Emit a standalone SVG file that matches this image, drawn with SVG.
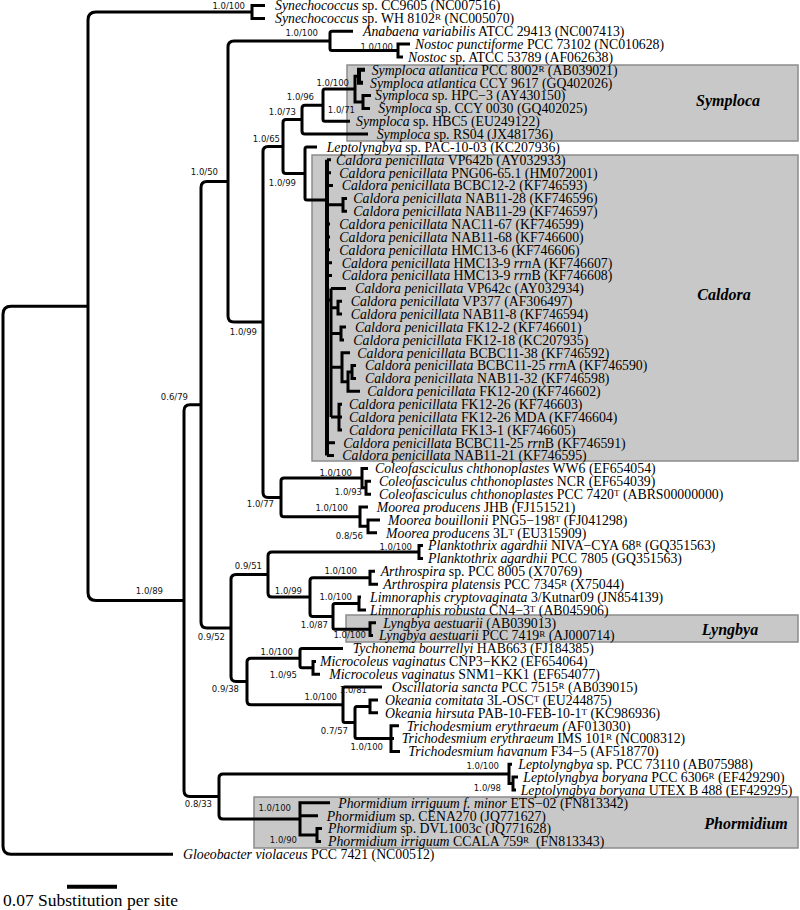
<svg xmlns="http://www.w3.org/2000/svg" width="800" height="910" viewBox="0 0 800 910">
<style>
.bg{fill:#ffffff}
.box{fill:#c8c8c8;stroke:#8c8c8c;stroke-width:1.5}
.br{fill:none;stroke:#000;stroke-width:3;stroke-linejoin:miter}
.tk{stroke-width:4}
.lf{font-family:"Liberation Serif","Times New Roman",serif;font-size:13.8px;fill:#000}
.i{font-style:italic}
.sup{font-size:9px}
.sp{font-family:"DejaVu Sans",Verdana,sans-serif;font-size:8.5px;fill:#111;text-anchor:end}
.grp{font-family:"Liberation Serif","Times New Roman",serif;font-size:16px;font-weight:bold;font-style:italic;fill:#000;text-anchor:middle}
.scl{font-family:"Liberation Serif","Times New Roman",serif;font-size:17.5px;fill:#000}
</style>
<rect class="bg" x="0" y="0" width="800" height="910"/>
<g id="clades">
<rect class="box" x="347" y="65" width="451" height="76"/>
<rect class="box" x="312" y="155" width="486" height="306"/>
<rect class="box" x="346" y="615" width="452" height="27"/>
<rect class="box" x="254" y="797" width="544" height="51"/>
<text class="grp" x="728" y="106">Symploca</text>
<text class="grp" x="724" y="300">Caldora</text>
<text class="grp" x="730" y="635">Lyngbya</text>
<text class="grp" x="746" y="829">Phormidium</text>
</g>
<g id="connectors">
<path class="br" d="M88 306.2H11Q3 306.2 3 314.2V846.3Q3 854.3 11 854.3H173"/>
<path class="br" d="M252 12H96Q88 12 88 20V592.5Q88 600.5 96 600.5H184"/>
<path class="br" d="M265 5.5H252V18.4H265"/>
<path class="br" d="M201 404.7H190Q184 404.7 184 410.7V790.4Q184 796.4 190 796.4H219"/>
<path class="br" d="M228 181.4H207Q201 181.4 201 187.4V622.1Q201 628.1 207 628.1H231"/>
<path class="br" d="M330 40.9H234Q228 40.9 228 46.9V316Q228 322 234 322H263"/>
<path class="br" d="M353 31.2H332Q330 31.2 330 33.2V48.5Q330 50.5 332 50.5H398"/>
<path class="br" d="M410 44.1H398V56.9H403"/>
<path class="br" d="M283 146.5H268Q263 146.5 263 151.5V492.4Q263 497.4 268 497.4H281"/>
<path class="br" d="M302 119.6H286Q283 119.6 283 122.6V170.5Q283 173.5 286 173.5H305"/>
<path class="br" d="M323 105.2H305Q302 105.2 302 108.2V131.1Q302 134.1 305 134.1H368"/>
<path class="br" d="M355 89.1H325Q323 89.1 323 91.1V119.2Q323 121.2 325 121.2H350"/>
<path class="br" d="M359 76.2H355V102H363"/>
<path class="br tk" d="M365 69.8H359V82.7H363"/>
<path class="br" d="M371 95.5H363V108.4H370"/>
<path class="br" d="M317 147H307Q305 147 305 149V198Q305 200 307 200H327"/>
<path class="br tk" d="M327 159.8V455.6"/>
<path class="br" d="M327 159.8H331M327 172.7H331M327 185.5H333M327 204.8H343M347 198.4H343V211.3H347M327 224.1H330M327 237H330M327 249.8H330M327 262.7H332M327 275.6H332"/>
<path class="br" d="M327 300H331M331 288.4V417M331 288.4H346M331 307.7H338M342 301.3H338V314.1H342M331 333.4H341M346 327H341V339.9H344M331 367.2H342M350 352.7H342V381.7H348M352 372H348V391.3H360M356 365.6H352V378.4H356M331 417H342M342 404.2H339V429.9H342M327 442.7H335M327 455.6H334"/>
<path class="br" d="M362 478.1H284Q281 478.1 281 481.1V513.7Q281 516.7 284 516.7H360"/>
<path class="br" d="M368 468.5H362V487.8H366"/>
<path class="br" d="M371 481.3H366V494.2H371"/>
<path class="br" d="M368 507H360V526.3H368"/>
<path class="br" d="M380 519.9H368V532.8H377"/>
<path class="br" d="M268 574.6H236Q231 574.6 231 579.6V676.5Q231 681.5 236 681.5H247"/>
<path class="br" d="M419 552H272Q268 552 268 556V593.1Q268 597.1 272 597.1H310"/>
<path class="br" d="M423 545.6H419V558.5H423"/>
<path class="br" d="M370 577.8H313Q310 577.8 310 580.8V613.4Q310 616.4 313 616.4H333"/>
<path class="br" d="M375 571.3H370V584.2H378"/>
<path class="br" d="M359 603.5H335Q333 603.5 333 605.5V627.2Q333 629.2 335 629.2H370"/>
<path class="br" d="M361 597.1H359V609.9H366"/>
<path class="br" d="M376 622.8H370V635.6H373"/>
<path class="br" d="M300 658.2H251Q247 658.2 247 662.2V700.8Q247 704.8 251 704.8H343"/>
<path class="br" d="M343 648.5H302Q300 648.5 300 650.5V665.8Q300 667.8 302 667.8H313"/>
<path class="br" d="M316 661.4H313V674.2H320"/>
<path class="br" d="M382 687.1H345Q343 687.1 343 689.1V720.4Q343 722.4 345 722.4H355"/>
<path class="br" d="M370 706.4H357Q355 706.4 355 708.4V736.5Q355 738.5 357 738.5H394"/>
<path class="br" d="M378 699.9H370V712.8H378"/>
<path class="br" d="M399 725.7H391V751.4H400"/>
<path class="br" d="M509 773.9H223Q219 773.9 219 777.9V814.9Q219 818.9 223 818.9H300"/>
<path class="br" d="M512 764.2H509V783.5H513"/>
<path class="br" d="M518 777.1H513V790H516"/>
<path class="br" d="M330 802.8H300V835H317M300 815.7H318"/>
<path class="br" d="M322 828.5H317V841.4H321"/>
<path class="br tk" d="M67 886.7H117"/>
</g>
<g id="support">
<text class="sp" x="245" y="9">1.0/100</text>
<text class="sp" x="218" y="175">1.0/50</text>
<text class="sp" x="188" y="400">0.6/79</text>
<text class="sp" x="163" y="594">1.0/89</text>
<text class="sp" x="212" y="807">0.8/33</text>
<text class="sp" x="257" y="335">1.0/99</text>
<text class="sp" x="318" y="36">1.0/100</text>
<text class="sp" x="393" y="50">1.0/100</text>
<text class="sp" x="280" y="142">1.0/65</text>
<text class="sp" x="296" y="115">1.0/73</text>
<text class="sp" x="296" y="186">1.0/99</text>
<text class="sp" x="314" y="100">1.0/96</text>
<text class="sp" x="349" y="86">1.0/100</text>
<text class="sp" x="355" y="113">1.0/71</text>
<text class="sp" x="274" y="507">1.0/77</text>
<text class="sp" x="352" y="476">1.0/100</text>
<text class="sp" x="362" y="495">1.0/93</text>
<text class="sp" x="348" y="511">1.0/100</text>
<text class="sp" x="363" y="539">0.8/56</text>
<text class="sp" x="412" y="550">1.0/100</text>
<text class="sp" x="262" y="569">0.9/51</text>
<text class="sp" x="225" y="640">0.9/52</text>
<text class="sp" x="302" y="594">1.0/99</text>
<text class="sp" x="357" y="574">1.0/100</text>
<text class="sp" x="328" y="628">1.0/87</text>
<text class="sp" x="352" y="600">1.0/100</text>
<text class="sp" x="366" y="638">1.0/100</text>
<text class="sp" x="239" y="692">0.9/38</text>
<text class="sp" x="293" y="655">1.0/100</text>
<text class="sp" x="297" y="678">1.0/95</text>
<text class="sp" x="337" y="700">1.0/100</text>
<text class="sp" x="367" y="693">1.0/81</text>
<text class="sp" x="348" y="734">0.7/57</text>
<text class="sp" x="383" y="750">1.0/100</text>
<text class="sp" x="499" y="769">1.0/100</text>
<text class="sp" x="501" y="791">1.0/98</text>
<text class="sp" x="291" y="811">1.0/100</text>
<text class="sp" x="297" y="843">1.0/90</text>
</g>
<g id="leaves">
<g id="n01"><text class="lf" x="275" y="10.3"><tspan class="i">Synechococcus</tspan> sp. CC9605 (NC007516)</text></g>
<g id="n02"><text class="lf" x="275" y="23.2"><tspan class="i">Synechococcus</tspan> sp. WH 8102<tspan class="sup" baseline-shift="35%">R</tspan> (NC005070)</text></g>
<g id="n03"><text class="lf" x="363" y="36"><tspan class="i">Anabaena variabilis</tspan> ATCC 29413 (NC007413)</text></g>
<g id="n04"><text class="lf" x="415" y="48.9"><tspan class="i">Nostoc punctiforme</tspan> PCC 73102 (NC010628)</text></g>
<g id="n05"><text class="lf" x="408" y="61.7"><tspan class="i">Nostoc</tspan> sp. ATCC 53789 (AF062638)</text></g>
<g id="n06"><text class="lf" x="371.7" y="74.6"><tspan class="i">Symploca atlantica</tspan> PCC 8002<tspan class="sup" baseline-shift="35%">R</tspan> (AB039021)</text></g>
<g id="n07"><text class="lf" x="370" y="87.5"><tspan class="i">Symploca atlantica</tspan> CCY 9617 (GQ402026)</text></g>
<g id="n08"><text class="lf" x="375" y="100.3"><tspan class="i">Symploca</tspan> sp. HPC−3 (AY430150)</text></g>
<g id="n09"><text class="lf" x="378.3" y="113.2"><tspan class="i">Symploca</tspan> sp. CCY 0030 (GQ402025)</text></g>
<g id="n10"><text class="lf" x="356" y="126"><tspan class="i">Symploca</tspan> sp. HBC5 (EU249122)</text></g>
<g id="n11"><text class="lf" x="376.7" y="138.9"><tspan class="i">Symploca</tspan> sp. RS04 (JX481736)</text></g>
<g id="n12"><text class="lf" x="326.7" y="151.8"><tspan class="i">Leptolyngbya</tspan> sp. PAC-10-03 (KC207936)</text></g>
<g id="n13"><text class="lf" x="336" y="164.6"><tspan class="i">Caldora penicillata</tspan> VP642b (AY032933)</text></g>
<g id="n14"><text class="lf" x="339.3" y="177.5"><tspan class="i">Caldora penicillata</tspan> PNG06-65.1 (HM072001)</text></g>
<g id="n15"><text class="lf" x="341.7" y="190.3"><tspan class="i">Caldora penicillata</tspan> BCBC12-2 (KF746593)</text></g>
<g id="n16"><text class="lf" x="353.3" y="203.2"><tspan class="i">Caldora penicillata</tspan> NAB11-28 (KF746596)</text></g>
<g id="n17"><text class="lf" x="353.3" y="216.1"><tspan class="i">Caldora penicillata</tspan> NAB11-29 (KF746597)</text></g>
<g id="n18"><text class="lf" x="339.3" y="228.9"><tspan class="i">Caldora penicillata</tspan> NAC11-67 (KF746599)</text></g>
<g id="n19"><text class="lf" x="339.3" y="241.8"><tspan class="i">Caldora penicillata</tspan> NAB11-68 (KF746600)</text></g>
<g id="n20"><text class="lf" x="339.3" y="254.6"><tspan class="i">Caldora penicillata</tspan> HMC13-6 (KF746606)</text></g>
<g id="n21"><text class="lf" x="341.7" y="267.5"><tspan class="i">Caldora penicillata</tspan> HMC13-9 <tspan class="i">rrn</tspan>A (KF746607)</text></g>
<g id="n22"><text class="lf" x="341.7" y="280.4"><tspan class="i">Caldora penicillata</tspan> HMC13-9 <tspan class="i">rrn</tspan>B (KF746608)</text></g>
<g id="n23"><text class="lf" x="355" y="293.2"><tspan class="i">Caldora penicillata</tspan> VP642c (AY032934)</text></g>
<g id="n24"><text class="lf" x="350.7" y="306.1"><tspan class="i">Caldora penicillata</tspan> VP377 (AF306497)</text></g>
<g id="n25"><text class="lf" x="350.7" y="318.9"><tspan class="i">Caldora penicillata</tspan> NAB11-8 (KF746594)</text></g>
<g id="n26"><text class="lf" x="355" y="331.8"><tspan class="i">Caldora penicillata</tspan> FK12-2 (KF746601)</text></g>
<g id="n27"><text class="lf" x="353.3" y="344.7"><tspan class="i">Caldora penicillata</tspan> FK12-18 (KC207935)</text></g>
<g id="n28"><text class="lf" x="357.3" y="357.5"><tspan class="i">Caldora penicillata</tspan> BCBC11-38 (KF746592)</text></g>
<g id="n29"><text class="lf" x="365" y="370.4"><tspan class="i">Caldora penicillata</tspan> BCBC11-25 <tspan class="i">rrn</tspan>A (KF746590)</text></g>
<g id="n30"><text class="lf" x="365" y="383.2"><tspan class="i">Caldora penicillata</tspan> NAB11-32 (KF746598)</text></g>
<g id="n31"><text class="lf" x="367.3" y="396.1"><tspan class="i">Caldora penicillata</tspan> FK12-20 (KF746602)</text></g>
<g id="n32"><text class="lf" x="349" y="409"><tspan class="i">Caldora penicillata</tspan> FK12-26 (KF746603)</text></g>
<g id="n33"><text class="lf" x="349" y="421.8"><tspan class="i">Caldora penicillata</tspan> FK12-26 MDA (KF746604)</text></g>
<g id="n34"><text class="lf" x="349" y="434.7"><tspan class="i">Caldora penicillata</tspan> FK13-1 (KF746605)</text></g>
<g id="n35"><text class="lf" x="343.3" y="447.5"><tspan class="i">Caldora penicillata</tspan> BCBC11-25 <tspan class="i">rrn</tspan>B (KF746591)</text></g>
<g id="n36"><text class="lf" x="342.3" y="460.4"><tspan class="i">Caldora penicillata</tspan> NAB11-21 (KF746595)</text></g>
<g id="n37"><text class="lf" x="375" y="473.3"><tspan class="i">Coleofasciculus chthonoplastes</tspan> WW6 (EF654054)</text></g>
<g id="n38"><text class="lf" x="379" y="486.1"><tspan class="i">Coleofasciculus chthonoplastes</tspan> NCR (EF654039)</text></g>
<g id="n39"><text class="lf" x="379" y="499"><tspan class="i">Coleofasciculus chthonoplastes</tspan> PCC 7420<tspan class="sup" baseline-shift="35%">T</tspan> (ABRS00000000)</text></g>
<g id="n40"><text class="lf" x="376.7" y="511.8"><tspan class="i">Moorea producens</tspan> JHB (FJ151521)</text></g>
<g id="n41"><text class="lf" x="388" y="524.7"><tspan class="i">Moorea bouillonii</tspan> PNG5−198<tspan class="sup" baseline-shift="35%">T</tspan> (FJ041298)</text></g>
<g id="n42"><text class="lf" x="386" y="537.6"><tspan class="i">Moorea producens</tspan> 3L<tspan class="sup" baseline-shift="35%">T</tspan> (EU315909)</text></g>
<g id="n43"><text class="lf" x="428" y="550.4"><tspan class="i">Planktothrix agardhii</tspan> NIVA−CYA 68<tspan class="sup" baseline-shift="35%">R</tspan> (GQ351563)</text></g>
<g id="n44"><text class="lf" x="428" y="563.3"><tspan class="i">Planktothrix agardhii</tspan> PCC 7805 (GQ351563)</text></g>
<g id="n45"><text class="lf" x="380.7" y="576.1"><tspan class="i">Arthrospira</tspan> sp. PCC 8005 (X70769)</text></g>
<g id="n46"><text class="lf" x="383.3" y="589"><tspan class="i">Arthrospira platensis</tspan> PCC 7345<tspan class="sup" baseline-shift="35%">R</tspan> (X75044)</text></g>
<g id="n47"><text class="lf" x="370" y="601.9"><tspan class="i">Limnoraphis cryptovaginata</tspan> 3/Kutnar09 (JN854139)</text></g>
<g id="n48"><text class="lf" x="370" y="614.7"><tspan class="i">Limnoraphis robusta</tspan> CN4−3<tspan class="sup" baseline-shift="35%">T</tspan> (AB045906)</text></g>
<g id="n49"><text class="lf" x="383.3" y="627.6"><tspan class="i">Lyngbya aestuarii</tspan> (AB039013)</text></g>
<g id="n50"><text class="lf" x="379" y="640.4"><tspan class="i">Lyngbya aestuarii</tspan> PCC 7419<tspan class="sup" baseline-shift="35%">R</tspan> (AJ000714)</text></g>
<g id="n51"><text class="lf" x="352.7" y="653.3"><tspan class="i">Tychonema bourrellyi</tspan> HAB663 (FJ184385)</text></g>
<g id="n52"><text class="lf" x="320" y="666.2"><tspan class="i">Microcoleus vaginatus</tspan> CNP3−KK2 (EF654064)</text></g>
<g id="n53"><text class="lf" x="329.3" y="679"><tspan class="i">Microcoleus vaginatus</tspan> SNM1−KK1 (EF654077)</text></g>
<g id="n54"><text class="lf" x="391.7" y="691.9"><tspan class="i">Oscillatoria sancta</tspan> PCC 7515<tspan class="sup" baseline-shift="35%">R</tspan> (AB039015)</text></g>
<g id="n55"><text class="lf" x="385" y="704.7"><tspan class="i">Okeania comitata</tspan> 3L-OSC<tspan class="sup" baseline-shift="35%">T</tspan> (EU244875)</text></g>
<g id="n56"><text class="lf" x="385" y="717.6"><tspan class="i">Okeania hirsuta</tspan> PAB-10-FEB-10-1<tspan class="sup" baseline-shift="35%">T</tspan> (KC986936)</text></g>
<g id="n57"><text class="lf" x="406.7" y="730.5"><tspan class="i">Trichodesmium erythraeum (</tspan>AF013030)</text></g>
<g id="n58"><text class="lf" x="401.7" y="743.3"><tspan class="i">Trichodesmium erythraeum</tspan> IMS 101<tspan class="sup" baseline-shift="35%">R</tspan> (NC008312)</text></g>
<g id="n59"><text class="lf" x="408.3" y="756.2"><tspan class="i">Trichodesmium havanum</tspan> F34−5 (AF518770)</text></g>
<g id="n60"><text class="lf" x="518.3" y="769"><tspan class="i">Leptolyngbya</tspan> sp. PCC 73110 (AB075988)</text></g>
<g id="n61"><text class="lf" x="523.3" y="781.9"><tspan class="i">Leptolyngbya boryana</tspan> PCC 6306<tspan class="sup" baseline-shift="35%">R</tspan> (EF429290)</text></g>
<g id="n62"><text class="lf" x="520.7" y="794.8"><tspan class="i">Leptolyngbya boryana</tspan> UTEX B 488 (EF429295)</text></g>
<g id="n63"><text class="lf" x="338.3" y="807.6"><tspan class="i">Phormidium irriguum f. minor</tspan> ETS−02 (FN813342)</text></g>
<g id="n64"><text class="lf" x="326.7" y="820.5"><tspan class="i">Phormidium</tspan> sp. CENA270 (JQ771627)</text></g>
<g id="n65"><text class="lf" x="328" y="833.3"><tspan class="i">Phormidium</tspan> sp. DVL1003c (JQ771628)</text></g>
<g id="n66"><text class="lf" x="328" y="846.2"><tspan class="i">Phormidium irriguum</tspan> CCALA 759<tspan class="sup" baseline-shift="35%">R</tspan> &#160;(FN813343)</text></g>
<g id="n67"><text class="lf" x="183" y="859.1"><tspan class="i">Gloeobacter violaceus</tspan> PCC 7421 (NC00512)</text></g>
</g>
<g id="scale">
<text class="scl" x="3" y="906">0.07 Substitution per site</text>
</g>
</svg>
